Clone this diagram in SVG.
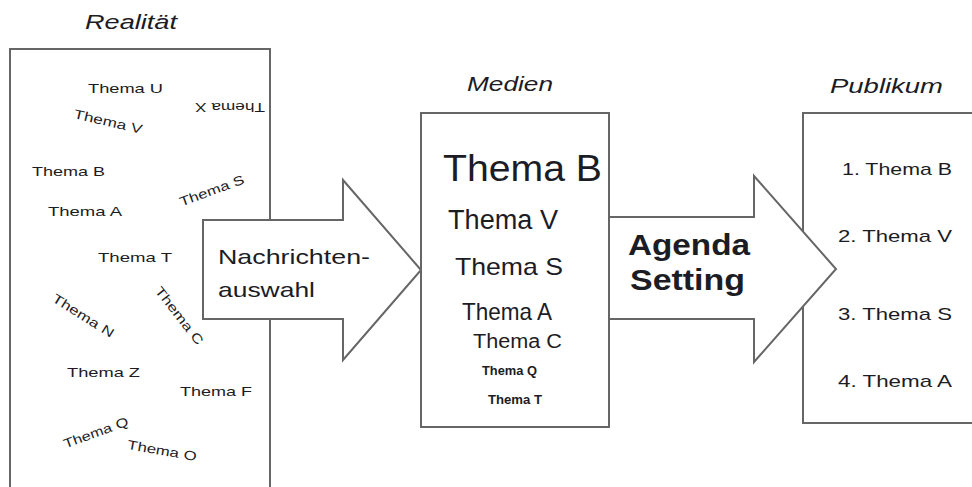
<svg xmlns="http://www.w3.org/2000/svg" width="972" height="487" viewBox="0 0 972 487">
<style>
.box{fill:#fff;stroke:#666;stroke-width:2}
.arrow{fill:#fff;stroke:#666;stroke-width:2;stroke-linejoin:miter}
text{font-family:"Liberation Sans",Arial,sans-serif;fill:#1c1c24}
.title{font-style:italic;font-size:20px}
.sm{font-size:13px}
.pub{font-size:17px}
</style>
<rect width="972" height="487" fill="#fff"/>
<g id="realitaet">
<text class="title" x="85" y="29" textLength="92" lengthAdjust="spacingAndGlyphs">Realität</text>
<rect class="box" x="10" y="49" width="260" height="460"/>
<text class="sm" x="88" y="93" textLength="75" lengthAdjust="spacingAndGlyphs">Thema U</text>
<text class="sm" text-anchor="middle" transform="translate(230,107) rotate(180)" y="4" textLength="70" lengthAdjust="spacingAndGlyphs">Thema X</text>
<text class="sm" text-anchor="middle" transform="translate(108,122) rotate(13)" y="4" textLength="70" lengthAdjust="spacingAndGlyphs">Thema V</text>
<text class="sm" x="32" y="176" textLength="73" lengthAdjust="spacingAndGlyphs">Thema B</text>
<text class="sm" text-anchor="middle" transform="translate(212,191) rotate(-20)" y="4" textLength="68" lengthAdjust="spacingAndGlyphs">Thema S</text>
<text class="sm" x="48" y="216" textLength="74" lengthAdjust="spacingAndGlyphs">Thema A</text>
<text class="sm" x="98" y="262" textLength="74" lengthAdjust="spacingAndGlyphs">Thema T</text>
<text class="sm" text-anchor="middle" transform="translate(83,316) rotate(32)" y="4" textLength="70" lengthAdjust="spacingAndGlyphs">Thema N</text>
<text class="sm" text-anchor="middle" transform="translate(179,316) rotate(52)" y="4" textLength="70" lengthAdjust="spacingAndGlyphs">Thema C</text>
<text class="sm" x="67" y="377" textLength="73" lengthAdjust="spacingAndGlyphs">Thema Z</text>
<text class="sm" x="180" y="396" textLength="72" lengthAdjust="spacingAndGlyphs">Thema F</text>
<text class="sm" text-anchor="middle" transform="translate(96,433) rotate(-20)" y="4" textLength="68" lengthAdjust="spacingAndGlyphs">Thema Q</text>
<text class="sm" text-anchor="middle" transform="translate(162,451) rotate(10)" y="4" textLength="70" lengthAdjust="spacingAndGlyphs">Thema O</text>
</g>
<g id="connectors">
<g id="nachrichtenauswahl">
<path class="arrow" d="M203,220 L343,220 L343,180 L421,270 L343,360 L343,319 L203,319 Z"/>
<text x="218" y="264" font-size="21" textLength="152" lengthAdjust="spacingAndGlyphs">Nachrichten-</text>
<text x="218" y="297" font-size="21" textLength="97" lengthAdjust="spacingAndGlyphs">auswahl</text>
</g>
</g>
<g id="medien">
<text class="title" x="467" y="91" textLength="86" lengthAdjust="spacingAndGlyphs">Medien</text>
<rect class="box" x="421" y="113" width="188" height="314"/>
<text x="443" y="181" font-size="36" textLength="159" lengthAdjust="spacingAndGlyphs">Thema B</text>
<text x="448" y="229" font-size="27" textLength="110" lengthAdjust="spacingAndGlyphs">Thema V</text>
<text x="455" y="275" font-size="24" textLength="108" lengthAdjust="spacingAndGlyphs">Thema S</text>
<text x="462" y="320" font-size="24" textLength="90" lengthAdjust="spacingAndGlyphs">Thema A</text>
<text x="473" y="348" font-size="20" textLength="89" lengthAdjust="spacingAndGlyphs">Thema C</text>
<text x="482" y="375" font-size="12" font-weight="bold" textLength="55" lengthAdjust="spacingAndGlyphs">Thema Q</text>
<text x="488" y="404" font-size="12" font-weight="bold" textLength="54" lengthAdjust="spacingAndGlyphs">Thema T</text>
</g>
<g id="publikum">
<text class="title" x="830" y="93" textLength="113" lengthAdjust="spacingAndGlyphs">Publikum</text>
<rect class="box" x="803" y="113" width="200" height="310"/>
<text class="pub" x="842" y="175" textLength="110" lengthAdjust="spacingAndGlyphs">1. Thema B</text>
<text class="pub" x="838" y="242" textLength="114" lengthAdjust="spacingAndGlyphs">2. Thema V</text>
<text class="pub" x="838" y="320" textLength="114" lengthAdjust="spacingAndGlyphs">3. Thema S</text>
<text class="pub" x="838" y="387" textLength="114" lengthAdjust="spacingAndGlyphs">4. Thema A</text>
</g>
<g id="agenda-setting">
<path class="arrow" d="M609,217 L754,217 L754,176 L836,269 L754,362 L754,319 L609,319 Z"/>
<text x="628" y="255" font-size="30" font-weight="bold" textLength="122" lengthAdjust="spacingAndGlyphs">Agenda</text>
<text x="630" y="290" font-size="30" font-weight="bold" textLength="115" lengthAdjust="spacingAndGlyphs">Setting</text>
</g>
</svg>
